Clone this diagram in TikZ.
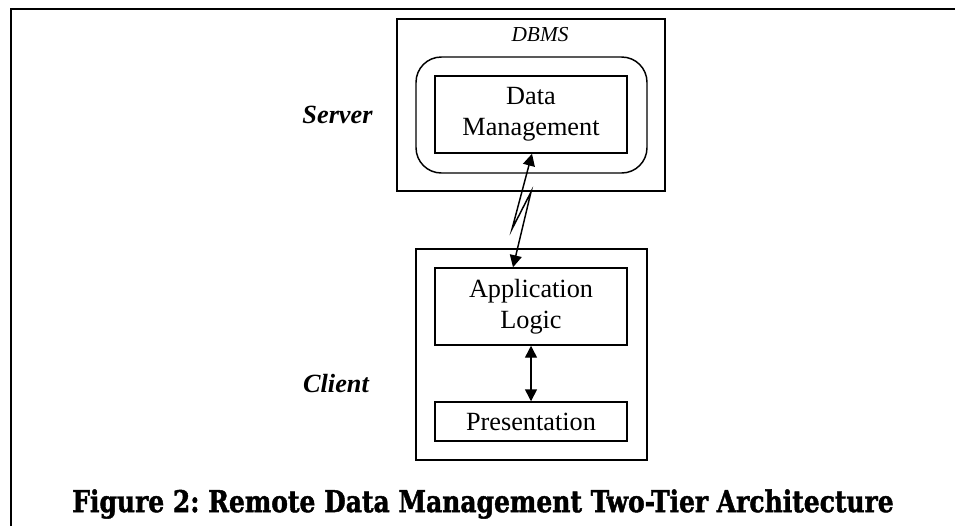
\documentclass[tikz,border=0pt]{standalone}
\usepackage{fontspec}
\setmainfont{Liberation Serif}
\newfontfamily\titlefont[BoldFeatures={FakeBold=1.6}]{DejaVu Serif}
\usetikzlibrary{arrows.meta,calc}
\begin{document}
\begin{tikzpicture}[x=0.75pt,y=-0.75pt,
  box/.style={draw,line width=1.1pt,inner sep=0pt,minimum width=144pt,align=center,
    font=\fontsize{19.7}{23}\selectfont},
  frame/.style={draw,line width=1.1pt,inner sep=0pt},
  tier/.style={font=\fontsize{19.7}{23}\selectfont\bfseries\itshape},
  conn/.style={line width=1.1pt,{Triangle[length=9pt,width=9pt]}-{Triangle[length=9pt,width=9pt]}}]
\useasboundingbox (0,0) rectangle (955,526);
% page frame
\draw[line width=1.6pt] (11,526) -- (11,9) -- (955,9);
% server side
\node[frame,minimum width=201pt,minimum height=129pt] (dbms) at (531,105) {};
\node[font=\fontsize{16}{18}\selectfont\itshape] (dbmslbl) at (540,35) {DBMS};
\node[frame,rounded corners=19pt,minimum width=173.25pt,minimum height=87pt] (engine) at (531.5,115) {};
\node[box,minimum height=57.75pt] (dm) at (531,114.5) {Data\\Management};
\node[tier] (server) at (337.5,115) {Server};
% client side
\node[frame,minimum width=173.25pt,minimum height=158.25pt] (client) at (531.5,354.5) {};
\node[box,minimum height=57.75pt] (al) at (531,306.5) {Application\\Logic};
\node[box,minimum height=29.25pt] (pres) at (531,421.5) {Presentation};
\node[tier] (clientlbl) at (336,384) {Client};
% connectors
\coordinate (xa) at (513,0);
\coordinate (xb) at (532,0);
\coordinate (z1) at (531,192);
\coordinate (z2) at (512,229);
\draw[conn] (al.north -| xa) -- (z1) -- (z2) -- (dm.south -| xb);
\draw[conn] (al.south) -- (pres.north);
% caption
\node[font=\titlefont\bfseries] (caption) at (483,504) {\scalebox{1}[1.2]{\resizebox{616pt}{!}{Figure 2:~Remote Data Management Two-Tier Architecture}}};
\end{tikzpicture}
\end{document}
